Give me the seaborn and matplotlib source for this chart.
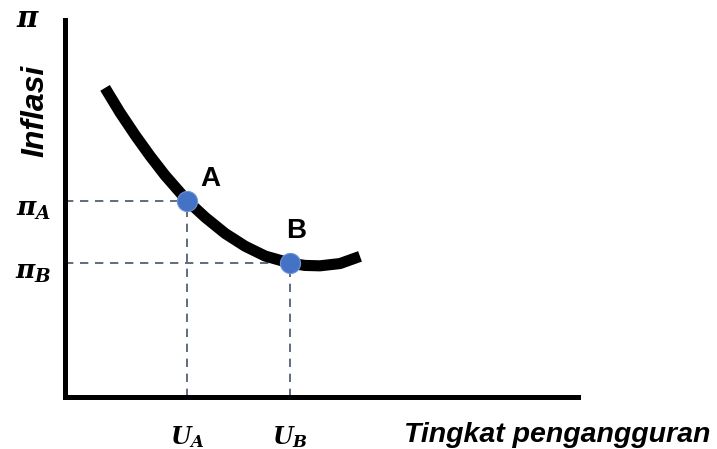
import numpy as np
import pandas as pd
import seaborn as sns
import matplotlib.pyplot as plt

# Kurva Phillips (satuan bebas)
pengangguran = [0.78, 1.07, 1.37, 1.66, 1.95, 2.38, 2.73, 3.12, 3.51, 3.90, 4.39, 4.68, 4.97, 5.36, 5.75]
inflasi = [8.20, 7.55, 6.94, 6.39, 5.88, 5.21, 4.77, 4.34, 4.00, 3.74, 3.55, 3.49, 3.48, 3.54, 3.73]

titik_nama = ["A", "B"]
titik_u = [2.38, 4.39]
titik_pi = [5.21, 3.55]
label_u = [r"$U_A$", r"$U_B$"]
label_pi = [r"$\pi_A$", r"$\pi_B$"]

sns.set_style("white")
plt.rcParams["font.family"] = ["Liberation Sans", "DejaVu Sans"]
plt.rcParams["text.color"] = "black"
plt.rcParams["mathtext.fontset"] = "custom"
plt.rcParams["mathtext.rm"] = "DejaVu Serif:bold"
plt.rcParams["mathtext.it"] = "DejaVu Serif:italic:bold"

fig = plt.figure(figsize=(7.17, 4.49), dpi=100)
ax = fig.add_axes([0.0907, 0.1158, 0.7155, 0.8396])

kurva = pd.DataFrame({"u": pengangguran, "pi": inflasi})
sns.lineplot(data=kurva, x="u", y="pi", color="black", linewidth=8,
             solid_capstyle="butt", solid_joinstyle="round", ax=ax)

dash = dict(color="#44546A", linewidth=1.2, linestyle=(0, (5, 4)), zorder=1)
for u, p in zip(titik_u, titik_pi):
    ax.plot([0, u], [p, p], **dash)
    ax.plot([u, u], [0, p], **dash)

titik = pd.DataFrame({"u": titik_u, "pi": titik_pi})
sns.scatterplot(data=titik, x="u", y="pi", color="#4472C4", s=210,
                edgecolor="#6E93D6", linewidth=0.8, zorder=5, ax=ax)

# posisi huruf A dan B relatif terhadap titiknya
geser = [(0.45, 0.57), (0.11, 0.85)]
for nama, u, p, (dx, dy) in zip(titik_nama, titik_u, titik_pi, geser):
    ax.text(u + dx, p + dy, nama, fontsize=20, fontweight="bold",
            ha="center", va="center")

for lab, u in zip(label_u, titik_u):
    ax.text(u, -1.06, lab, fontsize=17, ha="center", va="center", clip_on=False)
for lab, p in zip(label_pi, titik_pi):
    ax.text(-0.62, p - 0.25, lab, fontsize=19, ha="center", va="center", clip_on=False)

ax.text(-0.72, 10.03, r"$\pi$", fontsize=21, ha="center", va="center", clip_on=False)
ax.text(-0.58, 7.6, "Inflasi", fontsize=23, fontweight="bold", style="italic",
        rotation=90, ha="center", va="center", clip_on=False)
ax.text(12.57, -1.2, "Tingkat pengangguran", fontsize=20.5, fontweight="bold",
        style="italic", ha="right", va="baseline", clip_on=False)

ax.set_xlim(0, 10)
ax.set_ylim(0, 10)
ax.set_xticks([])
ax.set_yticks([])
ax.set_xlabel("")
ax.set_ylabel("")
sns.despine(ax=ax)
for s in ["left", "bottom"]:
    ax.spines[s].set_linewidth(3.6)
    ax.spines[s].set_color("black")

fig.savefig("out.png", dpi=100)
